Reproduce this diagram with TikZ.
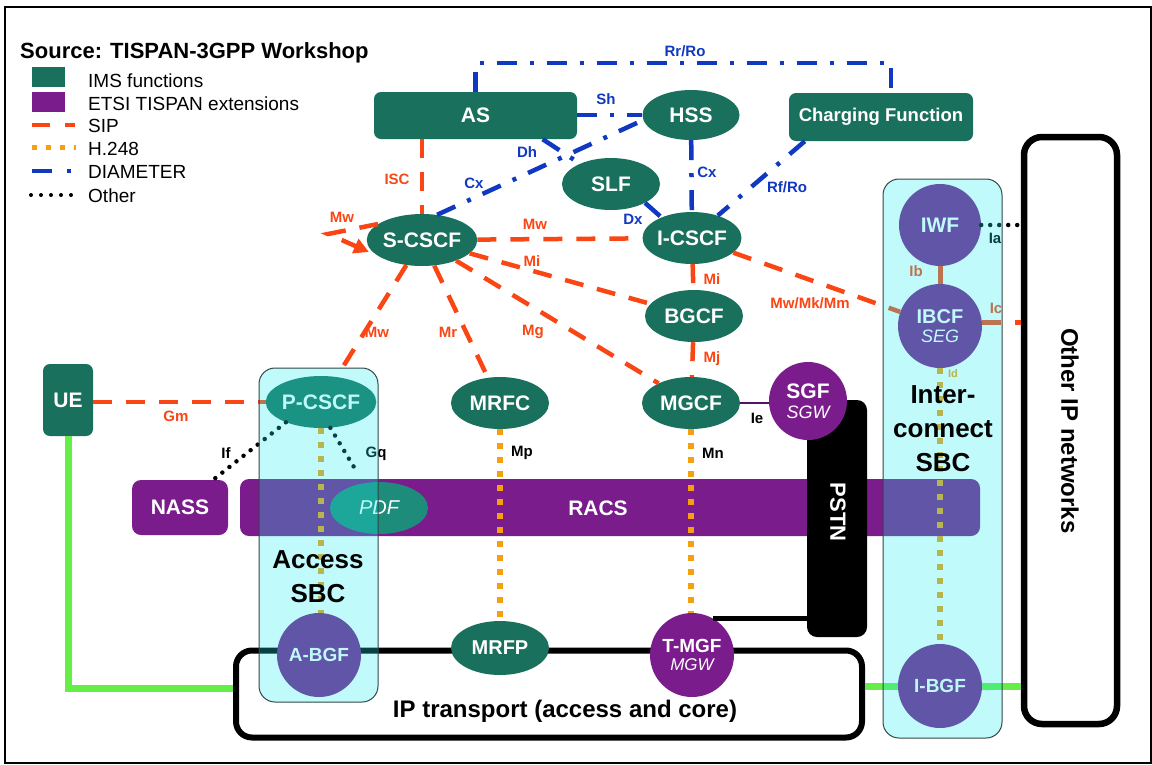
\documentclass[tikz,border=0pt]{standalone}
\usepackage{fontspec}
\setmainfont{Liberation Sans}
\usetikzlibrary{shapes.geometric,arrows.meta,calc}
\definecolor{imsgreen}{RGB}{25,112,92}
\definecolor{etsi}{RGB}{122,28,140}
\definecolor{sipred}{RGB}{250,70,20}
\definecolor{hor}{RGB}{245,160,16}
\definecolor{diab}{RGB}{16,56,192}
\definecolor{sbccyan}{RGB}{29,236,239}
\definecolor{sbcline}{RGB}{50,70,70}
\definecolor{lgreen}{RGB}{100,238,70}
\definecolor{pdfteal}{RGB}{30,140,122}
\begin{document}
\begin{tikzpicture}[x=1pt,y=-1pt,
  fs/.style={font=\bfseries\fontsize{#1}{#1}\selectfont},
  ims/.style={fill=imsgreen,text=white,inner sep=0pt},
  ell/.style={ellipse,ims,minimum width=98pt,minimum height=52pt,fs=21},
  rbox/.style={rectangle,rounded corners=7pt,ims,fs=21},
  ecirc/.style={circle,fill=etsi,text=white,inner sep=0pt,minimum size=#1,align=center,fs=20},
  ebox/.style={rectangle,rounded corners=9pt,fill=etsi,text=white,inner sep=0pt,fs=21},
  sip/.style={draw=sipred,line width=4.5pt,dash pattern=on 19pt off 14pt},
  hline/.style={draw=hor,line width=6pt,dash pattern=on 6pt off 8pt},
  dia/.style={draw=diab,line width=4.5pt,dash pattern=on 20pt off 13pt on 4pt off 13pt},
  oth/.style={draw=black,line width=4.5pt,dash pattern=on 0pt off 9pt,line cap=round},
  lbl/.style={inner sep=0pt,fs=15},
  rl/.style={lbl,text=sipred},
  bl/.style={lbl,text=diab},
  kl/.style={lbl,text=black},
  sbc/.style={draw=sbcline,line width=1pt,fill=sbccyan,fill opacity=0.28,rounded corners=16pt,inner sep=0pt},
  legt/.style={anchor=base west,inner sep=0pt,font=\fontsize{19}{19}\selectfont}
]
\useasboundingbox (0,0) rectangle (1152,764);
\draw[line width=1.5pt] (5,7) rectangle (1151,763);

% legend
\node[anchor=base west,inner sep=0pt,fs=22] (title) at (20,58) {Source: TISPAN-3GPP Workshop};
\node[fill=imsgreen,minimum width=33pt,minimum height=20pt,inner sep=0pt] (lg1) at (48.5,77) {};
\node[fill=etsi,minimum width=33pt,minimum height=20pt,inner sep=0pt] (lg2) at (48.5,101.5) {};
\node[legt] (lt1) at (88,87) {IMS functions};
\node[legt] (lt2) at (88,110) {ETSI TISPAN extensions};
\node[legt] (lt3) at (88,132) {SIP};
\node[legt] (lt4) at (88,155) {H.248};
\node[legt] (lt5) at (88,178) {DIAMETER};
\node[legt] (lt6) at (88,202) {Other};
\coordinate (ls1) at (32,125); \coordinate (ls2) at (75,125);
\coordinate (lh1) at (32,147); \coordinate (lh2) at (76,147);
\coordinate (ld1) at (32,171); \coordinate (ld2) at (72,171);
\coordinate (lo1) at (31,195); \coordinate (lo2) at (72,195);
\draw[draw=sipred,line width=4.5pt,dash pattern=on 18pt off 15pt] (ls1) -- (ls2);
\draw[draw=hor,line width=5pt,dash pattern=on 5pt off 9pt] (lh1) -- (lh2);
\draw[draw=diab,line width=4.5pt,dash pattern=on 20pt off 15pt on 4pt off 15pt] (ld1) -- (ld2);
\draw[draw=black,line width=4pt,dash pattern=on 0pt off 10pt,line cap=round] (lo1) -- (lo2);

% big boxes
\node[draw=black,line width=6.5pt,rounded corners=18pt,fill=white,minimum width=93pt,minimum height=587pt,inner sep=0pt] (oip) at (1070.5,430.5) {};
\node[draw=black,line width=6pt,rounded corners=16pt,minimum width=626pt,minimum height=87pt,inner sep=0pt] (ipt) at (549,694) {};

% bands
\node[ebox,minimum width=740pt,minimum height=57pt] (racs) at (610,507.5) {};
\node[text=white,fs=21,inner sep=0pt] (racst) at (598,508) {RACS};
\node[ebox,minimum width=96pt,minimum height=55pt] (nass) at (180,507.5) {NASS};
\node[rectangle,rounded corners=10pt,fill=black,minimum width=60pt,minimum height=237pt,inner sep=0pt] (pstn) at (837,518.5) {};

% IMS nodes
\node[rbox,minimum width=203pt,minimum height=47pt] (as) at (475.5,115.5) {AS};
\node[ell,minimum width=97pt,minimum height=50pt] (hss) at (691,115) {HSS};
\node[rbox,minimum width=184pt,minimum height=48pt,fs=18.5] (cf) at (881,117) {Charging Function};
\node[ell] (slf) at (611,184) {SLF};
\node[ell] (scscf) at (422,240) {S-CSCF};
\node[ell] (icscf) at (692,238) {I-CSCF};
\node[ell] (bgcf) at (694,316) {BGCF};
\node[ell] (mrfc) at (500,403) {MRFC};
\node[ell] (mgcf) at (691,403) {MGCF};
\node[ell] (pcscf) at (321,402) {P-CSCF};
\node[rbox,minimum width=50pt,minimum height=72pt] (ue) at (68,400) {UE};
\node[ellipse,fill=pdfteal,text=white,inner sep=0pt,minimum width=98pt,minimum height=52pt,font=\itshape\fontsize{20}{20}\selectfont] (pdf) at (379,508) {PDF};
\node[ell,minimum height=54pt,fs=20] (mrfp) at (500,648) {MRFP};

% ETSI nodes
\node[ecirc=78pt,fs=21] (sgf) at (808,401) {SGF\\[-1pt]{\mdseries\itshape\fontsize{18}{18}\selectfont SGW}};
\node[ecirc=84pt,fs=19] (abgf) at (319,655) {A-BGF};
\node[ecirc=84pt,fs=19] (tmgf) at (692,655) {T-MGF\\[-1pt]{\mdseries\itshape\fontsize{17}{17}\selectfont MGW}};
\node[ecirc=82pt,fs=21] (iwf) at (940,225) {IWF};
\node[ecirc=84pt,fs=20] (ibcf) at (940,326) {IBCF\\[-1pt]{\mdseries\itshape\fontsize{18}{18}\selectfont SEG}};
\node[ecirc=84pt,fs=19] (ibgf) at (940,686) {I-BGF};

% transport lines
\draw[lgreen,line width=7pt] (ue.south) |- ($(ipt.west)+(0,-6)$);
\draw[lgreen,line width=7pt] (ipt.east |- ibgf.west) -- (ibgf.west);
\draw[lgreen,line width=7pt] (ibgf.east) -- (oip.west |- ibgf.east);
\draw[black,line width=5pt] (tmgf.60) -- (tmgf.60 -| pstn.west);

% DIAMETER
\draw[dia] (as.east |- hss.west) -- (hss.west);
\draw[dia] (scscf.59) -- (hss.186);
\draw[dia] ($(as.south west)!0.83!(as.south east)$) -- (slf);
\draw[dia] (hss) -- (icscf);
\draw[dia] (slf.-29) -- (icscf.146);
\draw[dia] ($(cf.south west)+(16,0)$) -- (icscf.41);
\draw[dia] (as.north) |- ($(cf.north)+(10,-30)$) -- ($(cf.north)+(10,0)$);

% SIP
\draw[sip] (scscf) -- (icscf);
\draw[sip] (scscf) -- (bgcf);
\draw[sip] (scscf) -- (pcscf);
\draw[sip] (scscf) -- (mrfc);
\draw[sip] (scscf) -- (mgcf);
\draw[sip] (icscf) -- (bgcf);
\draw[sip] (bgcf) -- (mgcf);
\draw[sip] (scscf.north |- as.south) -- (scscf.north);
\draw[sip] (icscf) -- (ibcf);
\draw[sip] (ue.east |- pcscf.west) -- (pcscf.west);
\draw[sip] (ibcf.5) -- (oip.west |- ibcf.5);
\draw[sipred,line width=5pt] (iwf) -- (ibcf);
\coordinate (mwv) at (328,234);
\draw[sip,-{Triangle[length=15pt,width=15pt]}] (scscf.160) -- (mwv) -- (369,252);

% H.248
\draw[hline] (pcscf.south) -- (pcscf.south |- abgf.north);
\draw[hline] (mrfc) -- (mrfp);
\draw[hline] (mgcf.south) -- (mgcf.south |- tmgf.north);
\draw[hline] (ibcf) -- (ibgf);

% other
\draw[oth] (pcscf.210) -- ($(nass.north east)+(-15,0)$);
\draw[oth] (pcscf.-70) -- ($(pdf.north)+(-21,-8)$);
\draw[oth] (iwf.east) -- (oip.west |- iwf.east);
\draw[draw=etsi!70!black,line width=1.2pt] (mgcf.east) -- (sgf.west |- mgcf.east);

% labels
\node[bl] (l1) at (685,51) {Rr/Ro};
\node[bl] (l2) at (606,99) {Sh};
\node[bl] (l3) at (527,152) {Dh};
\node[bl] (l4) at (474,183) {Cx};
\node[bl] (l5) at (707,172) {Cx};
\node[bl] (l6) at (633,219) {Dx};
\node[bl] (l7) at (787,187) {Rf/Ro};
\node[rl] (l8) at (397,179) {ISC};
\node[rl] (l9) at (342,217) {Mw};
\node[rl] (l10) at (535,224) {Mw};
\node[rl] (l11) at (532,261) {Mi};
\node[rl] (l12) at (712,279) {Mi};
\node[rl] (l13) at (377,332) {Mw};
\node[rl] (l14) at (448,332) {Mr};
\node[rl] (l15) at (533,332) {Mg};
\node[rl] (l16) at (712,359) {Mj};
\node[rl] (l17) at (810,303) {Mw/Mk/Mm};
\node[rl] (l18) at (176,416) {Gm};
\node[kl] (l19) at (226,453) {If};
\node[kl] (l20) at (376,454) {Gq};
\node[kl] (l21) at (522,453) {Mp};
\node[kl] (l22) at (713,453) {Mn};
\node[kl] (l23) at (757,418) {Ie};
\node[kl] (l24) at (995,238) {Ia};
\node[rl] (l25) at (916,271) {Ib};
\node[rl] (l26) at (996,308) {Ic};
\node[inner sep=0pt,text=hor,font=\bfseries\fontsize{11}{11}\selectfont] (l27) at (953,374) {Id};

% SBC overlays
\node[sbc,minimum width=119pt,minimum height=334pt] (asbc) at (318.5,535) {};
\node[sbc,minimum width=119pt,minimum height=559pt] (isbc) at (942.5,458.5) {};

% texts on top
\node[align=center,inner sep=0pt,font=\bfseries\fontsize{26}{34}\selectfont] (asbct) at (318,577) {Access\\SBC};
\node[align=center,inner sep=0pt,font=\bfseries\fontsize{26}{34}\selectfont] (isbct) at (943,429) {Inter-\\connect\\SBC};
\node[rotate=-90,text=white,inner sep=0pt,fs=22] (pstnt) at (838,512) {PSTN};
\node[rotate=-90,text=black,inner sep=0pt,fs=24] (oipt) at (1070,431) {Other IP networks};
\node[inner sep=0pt,fs=24] (iptt) at (565,711) {IP transport (access and core)};
\end{tikzpicture}
\end{document}
